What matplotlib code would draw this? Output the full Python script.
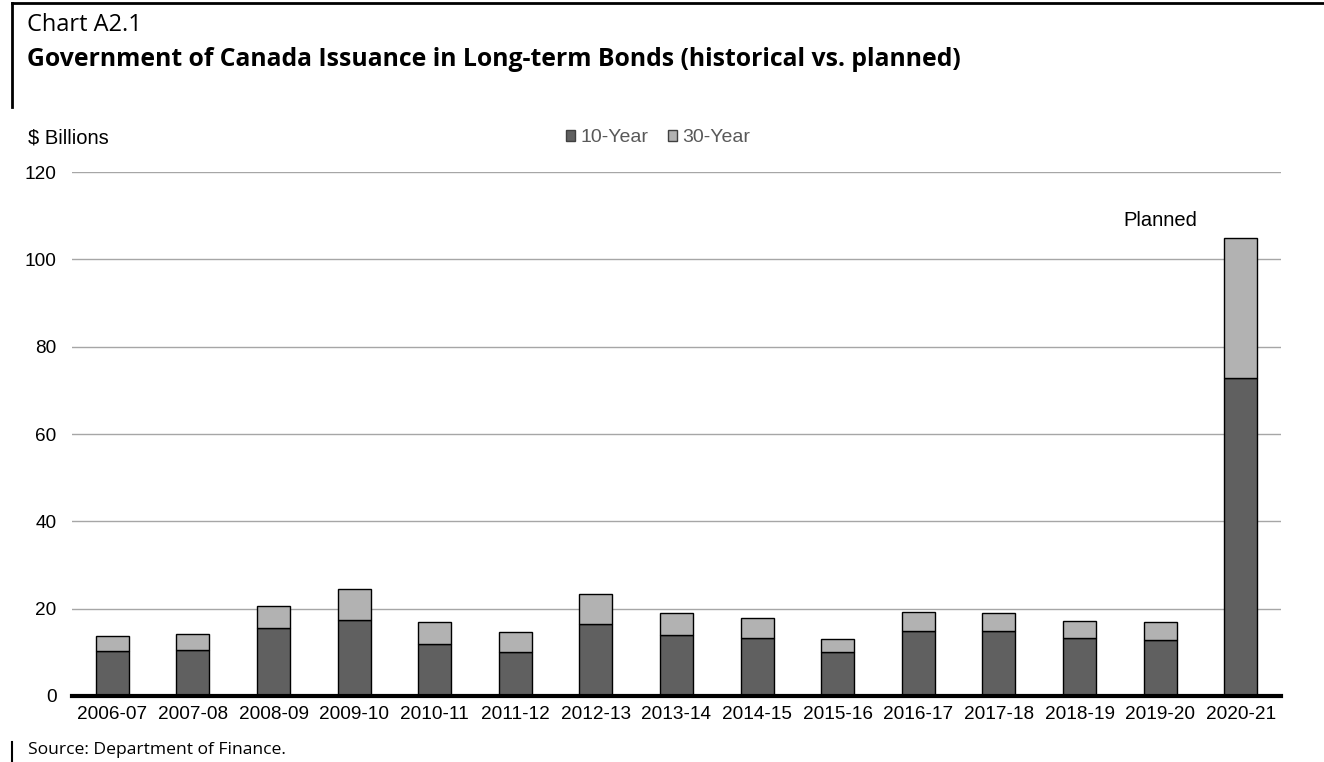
import matplotlib
matplotlib.use("Agg")
import numpy as np
from matplotlib import pyplot as plt
from matplotlib.lines import Line2D
from matplotlib.patches import Patch

years = ["2006-07", "2007-08", "2008-09", "2009-10", "2010-11", "2011-12", "2012-13", "2013-14",
         "2014-15", "2015-16", "2016-17", "2017-18", "2018-19", "2019-20", "2020-21"]
ten_year = [10.4, 10.6, 15.6, 17.4, 11.9, 10.1, 16.5, 14.0, 13.3, 10.1, 14.9, 14.8, 13.3, 12.8, 72.9]
totals = [13.7, 14.1, 20.7, 24.4, 16.9, 14.7, 23.3, 19.0, 17.9, 13.1, 19.3, 19.1, 17.1, 16.9, 104.8]
thirty_year = [t - a for t, a in zip(totals, ten_year)]
yticks = [0, 20, 40, 60, 80, 100, 120]

DARK = "#606060"
LIGHT = "#b2b2b2"
W, H = 1324, 762

fig = plt.figure(figsize=(W / 100, H / 100), dpi=100)
ax = fig.add_axes([72 / W, 1 - 696 / H, (1281 - 72) / W, (696 - 172) / H])

x = np.arange(len(years))
ax.bar(x, ten_year, width=0.41, color=DARK, edgecolor="black", linewidth=1.0, zorder=3)
ax.bar(x, thirty_year, bottom=ten_year, width=0.41, color=LIGHT, edgecolor="black", linewidth=1.0, zorder=3)

ax.set_xlim(-0.5, len(years) - 0.5)
ax.set_ylim(0, 120)
ax.set_yticks(yticks)
ax.set_xticks(x)
ax.set_xticklabels(years)
ax.tick_params(axis="both", length=0, labelsize=13.7, labelcolor="black")
ax.tick_params(axis="y", pad=11)
ax.tick_params(axis="x", pad=7)
for lab in ax.get_xticklabels() + ax.get_yticklabels():
    lab.set_fontfamily("Liberation Sans")

ax.grid(axis="y", color="#a6a6a6", linewidth=1.0, zorder=0)
for s in ["top", "right", "left"]:
    ax.spines[s].set_visible(False)
ax.spines["bottom"].set_linewidth(3)
ax.spines["bottom"].set_zorder(4)

ax.text(13.0, 108.8, "Planned", ha="center", va="center",
        fontsize=14.5, family="Liberation Sans")

# titles and notes
fig.text(27 / W, 1 - 25 / H, "Chart A2.1", fontsize=17, family="Open Sans", va="center")
fig.text(27 / W, 1 - 59 / H, "Government of Canada Issuance in Long-term Bonds (historical vs. planned)",
         fontsize=17.8, family="Open Sans", weight="bold", va="center")
fig.text(28 / W, 1 - 138 / H, "$ Billions", fontsize=14.5, family="Liberation Sans", va="center")
fig.text(28 / W, 1 - 750 / H, "Source: Department of Finance.", fontsize=12.6,
         family="Open Sans", va="center")

handles = [Patch(facecolor=DARK, edgecolor="#404040", label="10-Year"),
           Patch(facecolor=LIGHT, edgecolor="#404040", label="30-Year")]
leg = fig.legend(handles=handles, loc="center", bbox_to_anchor=(658 / W, 1 - 138 / H), ncol=2,
                 frameon=False, handlelength=0.5, handleheight=0.5, handletextpad=0.25,
                 columnspacing=1.0, prop={"family": "Liberation Sans", "size": 14})
for t in leg.get_texts():
    t.set_color("#595959")

# frame lines around the header
fig.add_artist(Line2D([12 / W, 1], [1 - 3 / H, 1 - 3 / H], color="black", linewidth=2))
fig.add_artist(Line2D([12 / W, 12 / W], [1 - 3 / H, 1 - 107 / H], color="black", linewidth=2))
fig.add_artist(Line2D([12 / W, 12 / W], [1 - 742 / H, 0], color="black", linewidth=1.5))

fig.savefig("out.png", dpi=100)
